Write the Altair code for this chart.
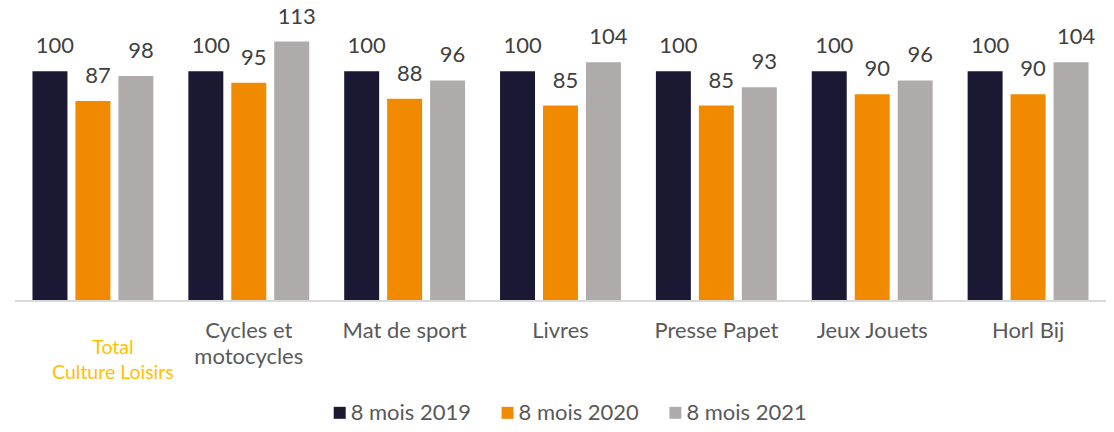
import altair as alt
import pandas as pd

categories = ["Total Culture Loisirs", "Cycles et motocycles", "Mat de sport", "Livres",
              "Presse Papet", "Jeux Jouets", "Horl Bij"]
cat_labels = ["Total\nCulture Loisirs", "Cycles et\nmotocycles", "Mat de sport", "Livres",
              "Presse Papet", "Jeux Jouets", "Horl Bij"]
series_names = ["8 mois 2019", "8 mois 2020", "8 mois 2021"]
v2019 = [100, 100, 100, 100, 100, 100, 100]
v2020 = [87, 95, 88, 85, 85, 90, 90]
v2021 = [98, 113, 96, 104, 93, 96, 104]
colors = ["#1B1833", "#F28A00", "#AFABAB"]

rows = []
for i, c in enumerate(categories):
    for s, vals in zip(series_names, [v2019, v2020, v2021]):
        rows.append({"cat": c, "series": s, "value": vals[i]})
df = pd.DataFrame(rows)
lab_df = pd.DataFrame({"cat": categories, "label": cat_labels})

FONT = "Lato"
W, H = 1092, 286

xenc = alt.X("cat:N", sort=categories, scale=alt.Scale(paddingInner=0, paddingOuter=0), axis=None)
xoff = alt.XOffset("series:N", sort=series_names,
                   scale=alt.Scale(paddingInner=0.186, paddingOuter=0.407))
yenc = alt.Y("value:Q", scale=alt.Scale(domain=[0, 125]), axis=None)

base = alt.Chart(df)

bars = base.mark_bar().encode(
    x=xenc, xOffset=xoff, y=yenc,
    color=alt.Color("series:N", sort=series_names,
                    scale=alt.Scale(domain=series_names, range=colors),
                    legend=alt.Legend(title=None, orient="none", direction="horizontal",
                                      legendX=314, legendY=388, symbolType="square",
                                      symbolSize=144, symbolStrokeWidth=0,
                                      labelFont=FONT, labelFontSize=22, labelColor="#595959",
                                      labelOffset=0, columnPadding=25)),
)

vals = base.mark_text(dx=5, dy=-18, baseline="alphabetic", fontSize=22, font=FONT,
                      color="#404040").encode(x=xenc, xOffset=xoff, y=yenc, text="value:Q")

axis_line = alt.Chart(lab_df).mark_rule(color="#D9D9D9", strokeWidth=2).encode(
    x=alt.value(0), x2=alt.value(1099), y=alt.value(287))

lab_base = alt.Chart(lab_df)
other_labels = lab_base.transform_filter(alt.datum.cat != categories[0]).mark_text(
    lineBreak="\n", lineHeight=26, baseline="alphabetic", fontSize=22, font=FONT,
    color="#595959").encode(x=alt.X("cat:N", sort=categories), y=alt.value(324), text="label:N")
total_label = lab_base.transform_filter(alt.datum.cat == categories[0]).mark_text(
    lineBreak="\n", lineHeight=25, baseline="alphabetic", fontSize=19.5, font=FONT, dx=20,
    color="#FFC000").encode(x=alt.X("cat:N", sort=categories), y=alt.value(340), text="label:N")

chart = alt.layer(bars, vals, axis_line, other_labels, total_label).properties(
    width=W, height=H,
    padding={"left": 7, "top": 6, "right": 0, "bottom": 124},
    autosize=alt.AutoSizeParams(type="none"),
).configure_view(stroke=None)

chart.save("out.html", embed_options={"renderer": "svg", "actions": False})
